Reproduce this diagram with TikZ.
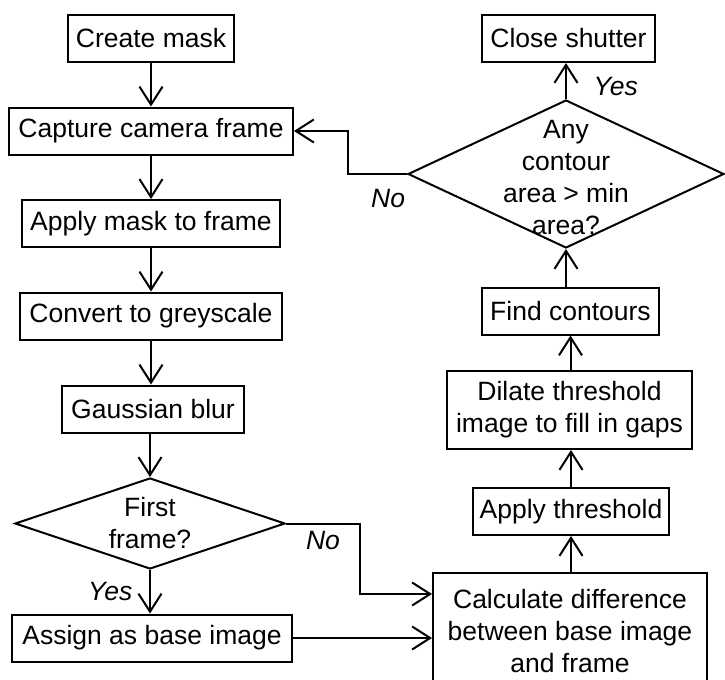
\documentclass[tikz,border=0pt]{standalone}
\usepackage{fontspec}
\setmainfont{Liberation Sans}
\usetikzlibrary{arrows.meta, shapes.geometric}

\newcommand{\flowfont}{\fontsize{13.25}{16}\selectfont}

\tikzset{
    box/.style={draw, line width=1pt, minimum height=23.5pt, inner sep=2pt, align=center},
    decision/.style={draw, diamond, line width=1pt, inner sep=0pt},
    flow/.style={line width=1pt, -{Straight Barb[length=9pt, width=11.5pt]}},
    answer/.style={font=\flowfont\itshape},
}

\begin{document}
\begin{tikzpicture}[x=0.5pt, y=-0.5pt, font=\flowfont]
    \useasboundingbox (0, 0) rectangle (725, 680);

    % Left column
    \node[box, minimum width=83pt] (mask) at (151, 38.5) {Create mask};
    \node[box, minimum width=142pt] (capture) at (151, 131) {Capture camera frame};
    \node[box, minimum width=129pt] (apply) at (151, 223.5) {Apply mask to frame};
    \node[box, minimum width=131pt] (grey) at (151, 316) {Convert to greyscale};
    \node[box, minimum width=91pt] (blur) at (153, 409) {Gaussian blur};
    \node[decision, minimum width=135pt, minimum height=45.5pt] (first) at (150, 523.5) {};
    \node[align=center] (firsttext) at (first) {First\\frame?};
    \node[box, minimum width=140pt] (base) at (152, 638) {Assign as base image};

    % Right column
    \node[box, minimum width=86.5pt] (shutter) at (568.5, 38.5) {Close shutter};
    \node[decision, minimum width=158pt, minimum height=74pt] (anyarea) at (566, 174) {};
    \node[align=center] (anytext) at (566, 178) {Any\\contour\\area > min\\area?};
    \node[box, minimum width=88.5pt] (contours) at (570.5, 311) {Find contours};
    \node[box, minimum width=122.5pt, minimum height=39pt] (dilate) at (569.5, 410) {Dilate threshold\\image to fill in gaps};
    \node[box, minimum width=98pt] (thresh) at (571, 511.5) {Apply threshold};
    \node[box, minimum width=137pt, minimum height=58pt] (diff) at (570, 631) {Calculate difference\\between base image\\and frame};

    % Arrows down the left side
    \draw[flow] (mask) -- (capture);
    \draw[flow] (capture) -- (apply);
    \draw[flow] (apply) -- (grey);
    \draw[flow] (grey.south) -- (grey.south |- blur.north);
    \draw[flow] (blur.south -| first.north) -- (first.north);
    \draw[flow] (first.south) -- node[answer, left=5pt] {Yes} (base.north -| first.south);
    \draw[flow] (first.east) -- node[answer, below] {No} ++(74, 0) |- ([yshift=18.5pt]diff.west);
    \draw[flow] (base.east) -- (base.east -| diff.west);

    % Arrows up the right side
    \draw[flow] (diff.north -| thresh.south) -- (thresh);
    \draw[flow] (thresh) -- (dilate.south -| thresh.north);
    \draw[flow] (dilate.north -| contours.south) -- (contours);
    \draw[flow] (contours.north -| anyarea.south) -- (anyarea.south);
    \draw[flow] (anyarea.north) -- node[answer, right=10pt, pos=0.35] {Yes} (anyarea.north |- shutter.south);
    \draw[flow] (anyarea.west) -- node[answer, below=4pt, pos=0.32] {No} ++(-59, 0) |- (capture.east);
\end{tikzpicture}
\end{document}
